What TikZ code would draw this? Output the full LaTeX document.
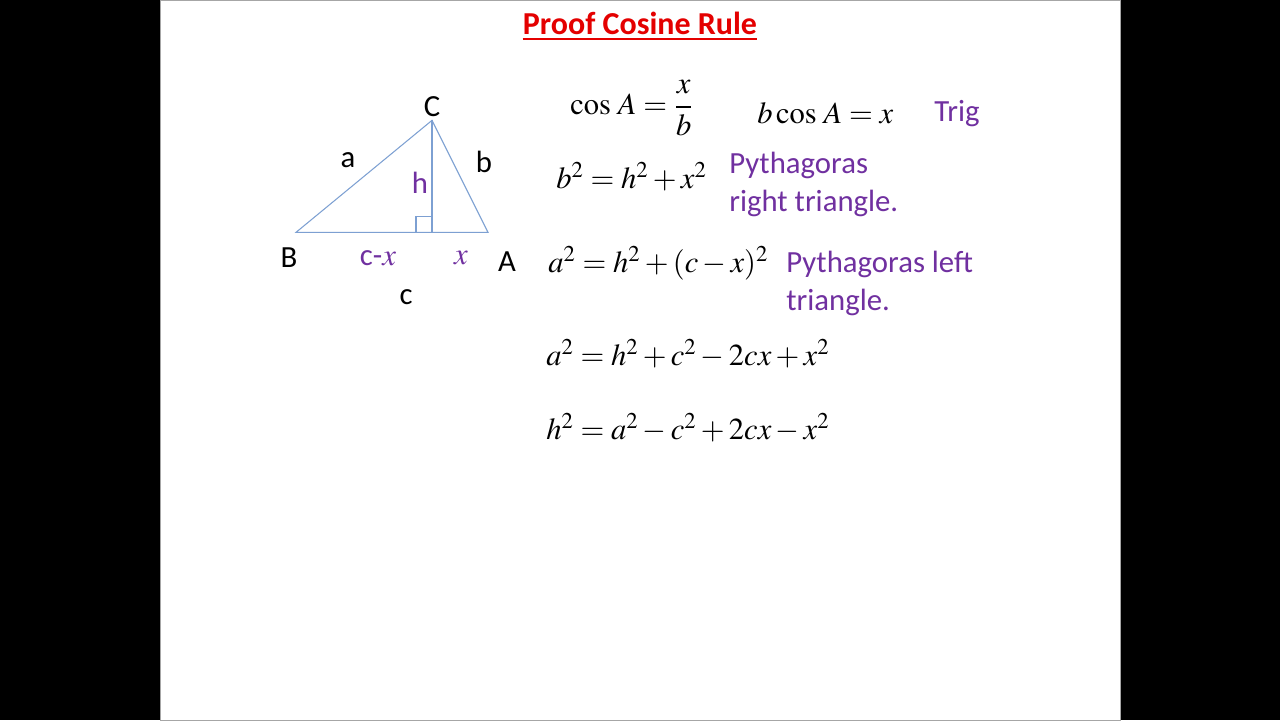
\documentclass[tikz,border=0pt]{standalone}
\usepackage{amsmath}
\usepackage{mathptmx}
\usepackage[no-math]{fontspec}
\setmainfont{Carlito}
\usetikzlibrary{positioning}
\definecolor{titlered}{RGB}{228,0,0}
\definecolor{notepurple}{RGB}{112,48,160}
\definecolor{sideblue}{RGB}{125,160,210}

\begin{document}
\begin{tikzpicture}[x=0.02cm,y=-0.02cm,
  lbl/.style={inner sep=0pt,font=\fontsize{17.5}{21.5}\selectfont},
  note/.style={lbl,text=notepurple,align=left,anchor=west},
  eq/.style={inner sep=0pt,anchor=west,font=\fontsize{17.4}{21}\selectfont},
  side/.style={draw=sideblue,line width=0.6pt}]

\fill[black](0,0)rectangle(1280,720);
\fill[white,draw=gray!70](160,0)rectangle(1120,720);

\node[lbl,text=titlered,font=\fontsize{18.2}{22}\selectfont\bfseries](title)at(640,23){Proof Cosine Rule};
\draw[titlered,line width=1.1pt]([yshift=-2.2pt]title.south west)--([yshift=-2.2pt]title.south east);

% triangle
\coordinate(B)at(296,232);
\coordinate(A)at(488,232);
\coordinate(C)at(432,120);
\coordinate(F)at(432,232);
\draw[side](B)--(A)--(C)--cycle;
\draw[side](C)--(F);
\draw[side](F)++(-16,0)--++(0,-16)--++(16,0);

\node[lbl](lC)at(432,106){C};
\node[lbl](lB)at(289,257){B};
\node[lbl](lA)at(507,261){A};
\node[lbl](la)at(348,160){a};
\node[lbl](lb)at(484,162){b};
\node[lbl](lc)at(406,297){c};
\node[lbl,text=notepurple](lh)at(420,182){h};
\node[lbl,text=notepurple](lcx)at(378,258){c-$x$};
\node[lbl,text=notepurple](lx)at(461,258){$x$};

% working
\node[eq](e1)at(570,108){$\cos\,A=\dfrac{x}{b}$};
\node[eq](e2)at(757,113){$b\cos\,A=x$};
\node[note](n1)at(934,113){Trig};
\node[eq](e3)at(556,176){$b^2=h^2+x^2$};
\node[note](n2)at(729,184){Pythagoras\\right triangle.};
\node[eq](e4)at(548,263){$a^2=h^2+(c-x)^2$};
\node[note](n3)at(786,283){Pythagoras left\\triangle.};
\node[eq](e5)at(546,353){$a^2=h^2+c^2-2cx+x^2$};
\node[eq](e6)at(546,427){$h^2=a^2-c^2+2cx-x^2$};

\end{tikzpicture}
\end{document}
